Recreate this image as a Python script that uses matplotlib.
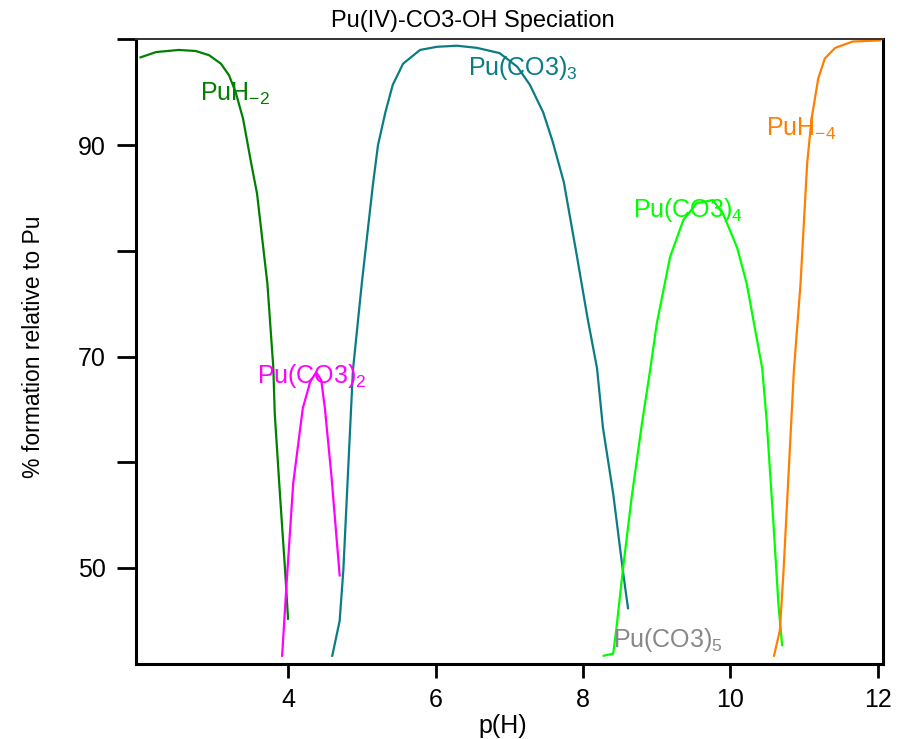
"""Pu(IV)-CO3-OH speciation plot."""

import matplotlib

matplotlib.use("Agg")
import matplotlib.pyplot as plt

plt.rcParams["font.family"] = ["Liberation Sans", "DejaVu Sans"]
plt.rcParams["mathtext.default"] = "regular"

# PuH-2
puh2_x = [2.00, 2.21, 2.52, 2.75, 2.93, 3.09, 3.20, 3.29, 3.39, 3.50, 3.58, 3.72,
          3.80, 3.82, 3.89, 3.96, 4.00]
puh2_y = [98.3, 98.8, 99.0, 98.9, 98.5, 97.7, 96.6, 95.0, 92.5, 88.3, 85.4, 76.9,
          69.0, 64.6, 57.0, 49.8, 45.2]

# Pu(CO3)2
co3_2_x = [3.92, 3.98, 4.07, 4.20, 4.30, 4.38, 4.45, 4.50, 4.59, 4.70]
co3_2_y = [41.7, 48.5, 58.0, 65.1, 67.6, 68.5, 67.8, 65.1, 58.6, 49.3]

# Pu(CO3)3
co3_3_x = [4.60, 4.70, 4.75, 4.82, 4.88, 5.00, 5.15, 5.22, 5.32, 5.42, 5.56, 5.79,
           6.02, 6.29, 6.56, 6.87, 7.11, 7.28, 7.46, 7.59, 7.74, 7.92, 8.06, 8.19,
           8.27, 8.41, 8.54, 8.61]
co3_3_y = [41.7, 45.0, 49.8, 60.0, 68.7, 76.9, 86.2, 90.0, 93.1, 95.7, 97.7, 99.0,
           99.3, 99.4, 99.2, 98.7, 97.4, 95.7, 93.1, 90.3, 86.5, 79.4, 73.7, 68.9,
           63.3, 57.0, 49.8, 46.2]

# Pu(CO3)4
co3_4_x = [8.28, 8.41, 8.46, 8.54, 8.66, 8.80, 8.91, 9.00, 9.18, 9.36, 9.54, 9.76,
           9.90, 10.09, 10.22, 10.43, 10.49, 10.58, 10.65, 10.70]
co3_4_y = [41.7, 41.9, 44.7, 49.8, 56.7, 63.7, 68.7, 73.1, 79.4, 82.9, 84.5, 84.8,
           83.5, 80.3, 76.9, 68.9, 64.0, 54.5, 46.6, 42.7]

# PuH-4
puh4_x = [10.59, 10.67, 10.72, 10.79, 10.86, 10.95, 11.04, 11.10, 11.19, 11.28,
          11.42, 11.66, 12.03]
puh4_y = [41.7, 44.1, 49.8, 59.2, 68.7, 76.9, 88.3, 92.5, 96.3, 98.2, 99.2, 99.8, 99.9]

labels = ["PuH$_{-2}$", "Pu(CO3)$_{2}$", "Pu(CO3)$_{3}$", "Pu(CO3)$_{4}$",
          "PuH$_{-4}$", "Pu(CO3)$_{5}$"]
label_x = [3.275, 4.33, 7.18, 9.43, 10.96, 9.15]
label_y = [94.2, 67.5, 96.6, 83.2, 90.9, 42.5]
colors = ["#008000", "#ff00ff", "#0a7d84", "#00ff00", "#ff8000", "#888888"]

series = [(puh2_x, puh2_y), (co3_2_x, co3_2_y), (co3_3_x, co3_3_y),
          (co3_4_x, co3_4_y), (puh4_x, puh4_y)]


def main() -> int:
    fig = plt.figure(figsize=(9.01, 7.39), dpi=100)
    ax = fig.add_axes([0.151, 0.1015, 0.829, 0.8455])

    for (xs, ys), color in zip(series, colors):
        ax.plot(xs, ys, color=color, linewidth=1.6)

    for text, x, y, color in zip(labels, label_x, label_y, colors):
        ax.text(x, y, text, color=color, fontsize=18, ha="center", va="baseline")

    ax.set_xlim(1.939, 12.068)
    ax.set_ylim(40.92, 100.02)
    ax.set_xticks([4, 6, 8, 10, 12])
    ax.set_yticks([50, 60, 70, 80, 90, 100])
    ax.set_yticklabels(["50", "", "70", "", "90", ""])
    ax.tick_params(axis="x", length=10, width=2, labelsize=18, pad=7)
    ax.tick_params(axis="y", length=14, width=2, labelsize=18, pad=8)

    for side in ("left", "bottom", "right"):
        ax.spines[side].set_linewidth(2.2)
    ax.spines["top"].set_linewidth(1.4)
    ax.spines["top"].set_color("#333333")

    fig.text(473 / 901, 1 - 27 / 739, "Pu(IV)-CO3-OH Speciation",
             fontsize=17, ha="center", va="baseline")
    fig.text(503 / 901, 1 - 733 / 739, "p(H)", fontsize=18,
             ha="center", va="baseline")
    fig.text(34 / 901, 1 - 347 / 739, "% formation relative to Pu", fontsize=16.5,
             rotation=90, ha="center", va="center")

    fig.savefig("out.png", dpi=100)
    plt.close(fig)
    return 0


if __name__ == "__main__":
    raise SystemExit(main())
